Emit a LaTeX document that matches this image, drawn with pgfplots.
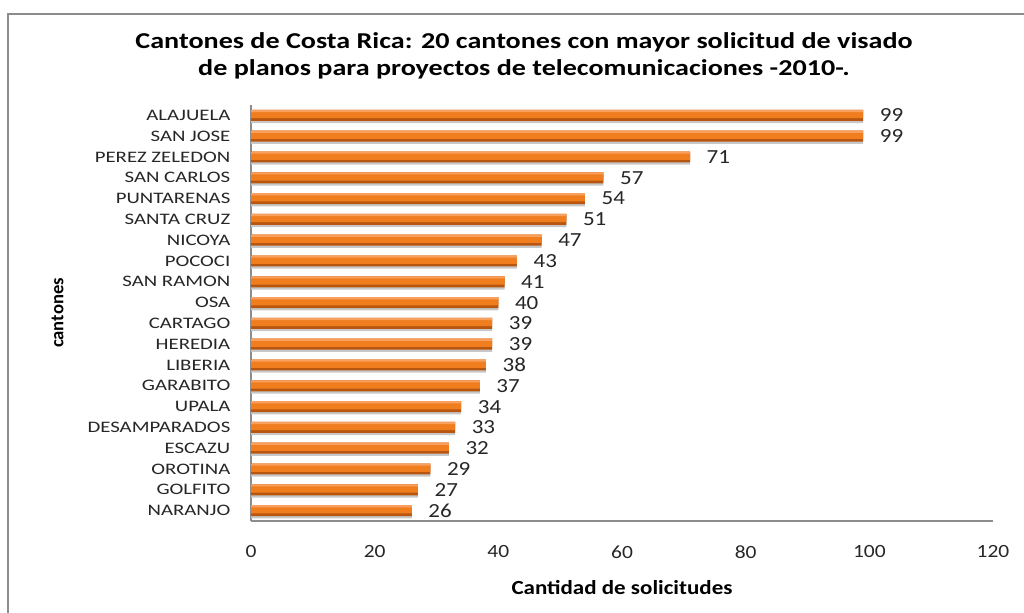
\documentclass[border=0pt]{standalone}
\usepackage{fontspec}
\setmainfont{Carlito}
\newfontfamily\widefont[FakeStretch=1.3]{Carlito}
\newfontfamily\numfont[FakeStretch=1.15]{Carlito}
\newfontfamily\titlefont[FakeStretch=1.24]{Carlito}
\newfontfamily\labfont[FakeStretch=1.15]{Carlito}
\usepackage{pgfplots}
\usepackage{pgfplotstable}
\pgfplotsset{compat=1.18}
\definecolor{barmid}{HTML}{F07E1F}
\definecolor{bartop}{HTML}{F8A060}
\definecolor{barbot}{HTML}{B8560F}
\definecolor{framegray}{HTML}{8C8C8C}

% valores (de abajo hacia arriba)
\pgfplotstableread{
v y
26 0
27 1
29 2
32 3
33 4
34 5
37 6
38 7
39 8
39 9
40 10
41 11
43 12
47 13
51 14
54 15
57 16
71 17
99 18
99 19
}\cantones

\begin{document}
\begin{tikzpicture}
\path[use as bounding box] (0,0) rectangle (768pt,459.75pt);
\draw[framegray, line width=1pt] (6pt,0) -- (6pt,449.25pt) -- (768pt,449.25pt);
\node[anchor=base, font=\titlefont\bfseries\fontsize{17}{19}\selectfont] at (393pt,423pt)
  {Cantones de Costa Rica: 20 cantones con mayor solicitud de visado};
\node[anchor=base, font=\titlefont\bfseries\fontsize{17}{19}\selectfont] at (393pt,402.75pt)
  {de planos para proyectos de telecomunicaciones -2010-.};
\begin{axis}[
  at={(188.25pt,69pt)}, anchor=south west,
  scale only axis, width=556.5pt, height=312pt,
  xbar,
  xmin=0, xmax=120, ymin=-0.5, ymax=19.5,
  xtick={0,20,...,120},
  ytick={0,...,19},
  yticklabels={NARANJO,GOLFITO,OROTINA,ESCAZU,DESAMPARADOS,UPALA,GARABITO,LIBERIA,HEREDIA,CARTAGO,OSA,SAN RAMON,POCOCI,NICOYA,SANTA CRUZ,PUNTARENAS,SAN CARLOS,PEREZ ZELEDON,SAN JOSE,ALAJUELA},
  axis x line*=bottom, axis y line*=left,
  axis line style={framegray, line width=0.8pt},
  major tick length=0pt,
  /pgf/number format/assume math mode=true,
  xticklabel style={font=\numfont\fontsize{14}{16}\selectfont, text=black!85, yshift=-15pt},
  yticklabel style={font=\widefont\fontsize{12}{13}\selectfont, text=black!85, xshift=-12pt},
  xlabel={Cantidad de solicitudes},
  xlabel style={font=\labfont\bfseries\fontsize{15}{17}\selectfont, at={(axis description cs:0.5,0)}, anchor=center, yshift=-50.25pt},
  ylabel={cantones},
  ylabel style={font=\bfseries\fontsize{14}{16}\selectfont, at={(axis description cs:0,0.5)}, anchor=center, yshift=145pt},
  every node near coord/.append style={font=\numfont\fontsize{15}{17}\selectfont, text=black!85, xshift=9pt},
]
% sombra
\addplot[draw=none, fill=black!22, bar width=8.4pt, bar shift=-1.6pt] table[x=v, y=y] {\cantones};
% barra base (borde inferior oscuro)
\addplot[draw=none, fill=barbot, bar width=8.2pt, bar shift=0pt,
  nodes near coords, nodes near coords align={horizontal}] table[x=v, y=y] {\cantones};
% cuerpo naranja
\addplot[draw=none, fill=barmid, bar width=6.2pt, bar shift=1pt] table[x=v, y=y] {\cantones};
% brillo superior
\addplot[draw=none, fill=bartop, bar width=1.6pt, bar shift=3.3pt] table[x=v, y=y] {\cantones};
\end{axis}
\end{tikzpicture}
\end{document}
